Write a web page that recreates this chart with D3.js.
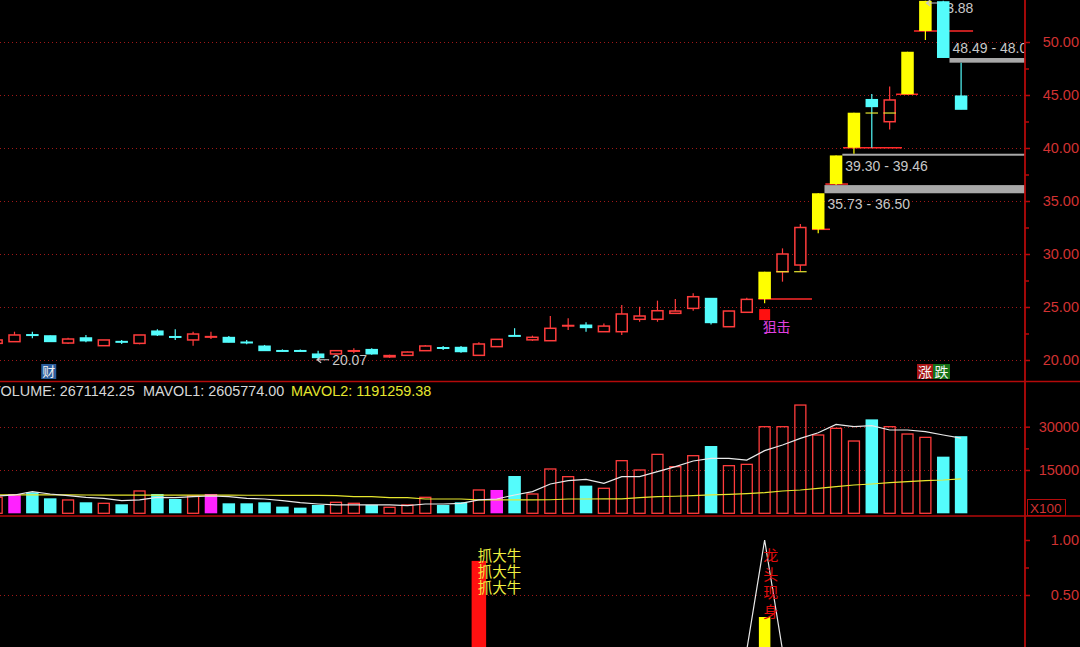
<!DOCTYPE html>
<html><head><meta charset="utf-8">
<script src="https://cdn.jsdelivr.net/npm/d3@7"></script>
<style>
body{margin:0;background:#000;overflow:hidden}
svg{display:block}
text{font-family:"Liberation Sans",Arial,sans-serif}
.cjk{font-family:"Noto Sans CJK SC","Noto Sans",sans-serif}
</style>
</head><body>
<svg id="c" width="1080" height="647"></svg>
<script>
// ---------------- data ----------------
const categories = d3.range(55).map(i => "T" + i);
const opens  = [21.57,21.73,22.40,22.29,21.60,22.10,21.35,21.76,21.57,22.74,22.22,21.89,22.17,22.14,21.70,21.32,20.90,20.90,20.57,20.57,20.86,21.00,20.27,20.44,20.88,21.18,21.20,20.44,21.26,22.32,21.90,21.82,23.20,23.30,22.67,22.67,23.84,23.84,24.40,24.87,25.82,23.14,24.50,25.75,28.33,28.96,32.33,36.60,40.03,44.58,42.48,45.07,51.04,53.80,44.91];
const highs  = [21.95,22.67,22.67,22.30,22.10,22.36,21.89,21.89,22.36,22.90,22.90,22.67,22.67,22.26,21.89,21.42,21.00,21.00,20.88,20.92,21.10,21.10,20.50,20.80,21.42,21.32,21.32,21.67,21.98,23.00,22.30,24.15,23.93,23.55,23.45,25.19,25.03,25.60,25.75,26.29,25.82,24.65,25.88,28.33,30.53,32.83,35.73,39.30,43.33,45.10,45.80,49.08,53.88,53.88,48.05];
const lows   = [21.50,21.73,22.05,21.73,21.50,21.67,21.35,21.51,21.48,22.26,21.89,21.35,21.98,21.67,21.48,20.85,20.78,20.78,20.07,20.55,20.63,20.50,20.20,20.44,20.88,20.94,20.69,20.44,21.26,22.28,21.80,21.82,22.83,22.67,22.67,22.36,23.61,23.61,24.40,24.65,23.36,23.14,24.50,25.35,27.39,28.33,31.95,36.50,39.46,40.03,41.75,45.07,50.19,48.49,43.65];
const closes = [21.89,22.36,22.33,21.73,21.98,21.80,21.89,21.70,22.36,22.36,22.16,22.45,22.23,21.67,21.65,20.88,20.86,20.86,20.22,20.88,20.90,20.57,20.44,20.75,21.32,21.14,20.78,21.51,21.95,22.28,22.14,22.99,23.28,23.05,23.20,24.34,24.15,24.65,24.62,25.97,23.52,24.62,25.72,28.33,30.00,32.50,35.73,39.30,43.33,43.90,44.53,49.08,53.88,48.54,43.65];
const limitUpDays = [43,46,47,48,51,52];
const volumes = [5540,6690,7270,5190,4620,3810,3460,3120,7730,6690,4960,6000,6690,3460,3460,3810,2310,1960,2890,3810,3460,2890,2080,2890,5540,2890,3810,8080,8080,12920,6690,15350,12690,9580,8660,18230,15000,20420,16160,19960,23310,16500,16960,30000,30000,37500,27120,29430,25040,32540,30000,27460,26310,19620,26711];
const markedVolDays = [1,12,28];
const mavol1 = [6000,6350,7500,6690,6120,5540,5190,4390,4620,5540,5420,5770,6000,5770,5190,4960,4390,3690,3230,2890,2890,2890,2890,2650,3230,3230,3460,4620,4960,6350,7500,10150,11310,11770,10390,12690,12690,14420,16160,18120,19040,19040,18460,21700,23650,25960,27920,30810,30000,30350,28850,28850,28270,27120,26058];
const mavol2 = [6400,6400,6380,6360,6350,6340,6330,6320,6310,6300,6300,6290,6280,6270,6260,6250,6240,6220,6200,6150,5780,5770,5420,5400,4960,4960,4950,4650,4620,4620,4620,4700,4960,4960,4980,5000,5420,5770,5900,6120,6350,6580,6800,7150,7730,8080,8660,9230,9810,10150,10620,10960,11310,11540,11913];
const priceTicks = [20,25,30,35,40,45,50];
const priceMinor = [22.5,27.5,32.5,37.5,42.5,47.5];
const volTicks = [15000,30000];
const volMinor = [22500];
const indTicks = [0.5,1.0];
const indMinor = [0.75];
const gaps = [
  {day:46, lo:35.73, hi:36.50, label:"35.73 - 36.50", dir:"up"},
  {day:47, lo:39.30, hi:39.46, label:"39.30 - 39.46", dir:"up"},
  {day:53, lo:48.05, hi:48.49, label:"48.49 - 48.05", dir:"down"}
];
const supportLines = [
  {from:42.65,to:45.65,price:25.75},{from:45.65,to:46.66,price:32.33},
  {from:46.40,to:47.67,price:36.60},{from:47.39,to:50.69,price:40.03},
  {from:50.36,to:51.59,price:45.07},{from:51.36,to:54.67,price:51.04}
];
const costTicks = [{day:44,price:28.33},{day:45,price:28.33},{day:49,price:43.30},{day:50,price:43.30}];
const extremes = [{day:18, price:20.07, label:"20.07", kind:"low"},{day:52, price:53.88, label:"53.88", kind:"high"}];
const bullSignal = [{day:27, value:0.81}];
const dragonBar = [{day:43, value:0.30}];
const dragonLine = [{day:42,value:0},{day:43,value:1},{day:44,value:0}];
const header = [{t:"VOLUME: 2671142.25", c:"#d8d8d8"},{t:"MAVOL1: 2605774.00", c:"#d8d8d8"},{t:"MAVOL2: 1191259.38", c:"#e6e62e"}];

// ---------------- layout ----------------
const svg = d3.select("#c");
const W = 1080, H = 647, AX = 1025;
const P = {top:0, bot:381}, V = {top:382, bot:516}, I = {top:517, bot:647};
const RED = "#ff3c3c", CYAN = "#54fcfc", YEL = "#ffff00", MAG = "#ff22ff", AXC = "#b40a0a", LBL = "#d23232", GRID = "#a01818";

svg.append("rect").attr("width",W).attr("height",H).attr("fill","#000");

const x = d3.scaleBand().domain(categories).range([-12.29, 970.03]).paddingInner(0.3).paddingOuter(0.15);
const bw = x.bandwidth();
const cx = i => x(categories[i]) + bw/2;
const xf = d3.scaleLinear().domain([0, categories.length-1]).range([cx(0), cx(categories.length-1)]);
const y = d3.scaleLinear().domain([20,50]).range([360,42]);
const vy = d3.scaleLinear().domain([0,30000]).range([513.3,426.7]);
const iy = d3.scaleLinear().domain([0,1]).range([650,540]);

const defs = svg.append("defs");
[["cm",0,P.top,AX,P.bot-P.top],["cv",0,V.top,AX,V.bot-V.top],["ci",0,I.top,AX,I.bot-I.top]].forEach(([id,a,b,w,h])=>{
  defs.append("clipPath").attr("id",id).append("rect").attr("x",a).attr("y",b).attr("width",w).attr("height",h);
});

function grid(g, scale, vals){
  g.selectAll(null).data(vals).join("line")
    .attr("x1",0).attr("x2",AX).attr("y1",d=>Math.round(scale(d))+0.5).attr("y2",d=>Math.round(scale(d))+0.5)
    .attr("stroke",GRID).attr("stroke-width",1).attr("stroke-dasharray","1,3");
}

// ---------------- main panel ----------------
const gm = svg.append("g").attr("clip-path","url(#cm)");
grid(gm, y, priceTicks);

// high label text (beneath candles)
extremes.filter(e=>e.kind==="high").forEach(e=>{
  gm.append("text").attr("x",cx(e.day)+13).attr("y",y(e.price)+12).attr("fill","#c8c8c8").attr("font-size",14).text(e.label);
});

// gap bands
gaps.forEach(g=>{
  const x0 = cx(g.day)+bw/2;
  const y0 = y(g.hi), h = Math.max(2, y(g.lo)-y(g.hi));
  gm.append("rect").attr("x",x0).attr("y",y0).attr("width",AX-x0).attr("height",h).attr("fill","#a8a8a8");
  gm.append("text").attr("x",x0+3).attr("y", g.dir==="up" ? y(g.lo)+16 : y(g.hi)-5)
    .attr("fill","#c8c8c8").attr("font-size",14).text(g.label);
});

// support lines
gm.selectAll(null).data(supportLines).join("line")
  .attr("x1",d=>xf(d.from)).attr("x2",d=>xf(d.to)).attr("y1",d=>y(d.price)).attr("y2",d=>y(d.price))
  .attr("stroke","#ff2a2a").attr("stroke-width",1.5);

// candles
categories.forEach((c,i)=>{
  const o=opens[i],h=highs[i],l=lows[i],cl=closes[i];
  const xc = cx(i), x0 = x(c);
  const isY = limitUpDays.includes(i);
  const up = cl >= o;
  if(isY){
    gm.append("line").attr("x1",xc).attr("x2",xc).attr("y1",y(h)).attr("y2",y(l)).attr("stroke",YEL).attr("stroke-width",1.2);
    gm.append("rect").attr("x",x0).attr("y",y(Math.max(o,cl))).attr("width",bw).attr("height",Math.max(1.5,Math.abs(y(o)-y(cl)))).attr("fill",YEL);
  } else if(up){
    const top=y(cl), bot=y(o);
    if(bot-top < 2){
      gm.append("line").attr("x1",xc).attr("x2",xc).attr("y1",y(h)).attr("y2",y(l)).attr("stroke",RED).attr("stroke-width",1.2);
      gm.append("rect").attr("x",x0).attr("y",top-0.5).attr("width",bw).attr("height",Math.max(2,bot-top+1)).attr("fill",RED);
    } else {
      gm.append("line").attr("x1",xc).attr("x2",xc).attr("y1",y(h)).attr("y2",top).attr("stroke",RED).attr("stroke-width",1.2);
      gm.append("line").attr("x1",xc).attr("x2",xc).attr("y1",bot).attr("y2",y(l)).attr("stroke",RED).attr("stroke-width",1.2);
      gm.append("rect").attr("x",x0+0.75).attr("y",top).attr("width",bw-1.5).attr("height",bot-top)
        .attr("fill","#000").attr("stroke",RED).attr("stroke-width",1.5);
    }
  } else {
    gm.append("line").attr("x1",xc).attr("x2",xc).attr("y1",y(h)).attr("y2",y(l)).attr("stroke",CYAN).attr("stroke-width",1.2);
    gm.append("rect").attr("x",x0).attr("y",y(o)-0.5).attr("width",bw).attr("height",Math.max(2,y(cl)-y(o)+1)).attr("fill",CYAN);
  }
});

// cost ticks
gm.selectAll(null).data(costTicks).join("line")
  .attr("x1",d=>x(categories[d.day])).attr("x2",d=>x(categories[d.day])+bw)
  .attr("y1",d=>y(d.price)).attr("y2",d=>y(d.price)).attr("stroke","#e6e632").attr("stroke-width",1.2);

// extreme arrows / low label
extremes.forEach(e=>{
  const ax = e.kind==="low" ? cx(e.day)-1 : cx(e.day)+1;
  const ay = e.kind==="low" ? y(e.price)+0.5 : 3;
  gm.append("path").attr("d",`M${ax+12},${ay} L${ax},${ay} M${ax+4},${ay-3} L${ax},${ay} L${ax+4},${ay+3}`)
    .attr("stroke","#c8c8c8").attr("stroke-width",1.2).attr("fill","none");
  if(e.kind==="low") gm.append("text").attr("x",ax+15).attr("y",ay+5).attr("fill","#c8c8c8").attr("font-size",14).text(e.label);
});

// signal marker 狙击
const sx = cx(43);
gm.append("rect").attr("x",sx-5.5).attr("y",y(24.8)).attr("width",11).attr("height",y(23.77)-y(24.8)).attr("fill","#ff1010");
gm.append("text").attr("class","cjk").attr("x",sx-2).attr("y",y(23.77)+12).attr("fill","#e040e0").attr("font-size",14).text("狙击");

// 财 badge
const bx = cx(3);
gm.append("rect").attr("x",bx-9).attr("y",364).attr("width",15).attr("height",15).attr("fill","#2a5d9c");
gm.append("text").attr("class","cjk").attr("x",bx-1.5).attr("y",376).attr("text-anchor","middle").attr("fill","#f0f0f0").attr("font-size",13).text("财");

// 涨跌 badge
gm.append("rect").attr("x",917).attr("y",364).attr("width",16).attr("height",15).attr("fill","#a81414");
gm.append("rect").attr("x",933).attr("y",364).attr("width",17).attr("height",15).attr("fill","#167016");
gm.append("text").attr("class","cjk").attr("x",925).attr("y",376.5).attr("text-anchor","middle").attr("fill","#f4f4f4").attr("font-size",14).text("涨");
gm.append("text").attr("class","cjk").attr("x",941.5).attr("y",376.5).attr("text-anchor","middle").attr("fill","#f4f4f4").attr("font-size",14).text("跌");

// ---------------- volume panel ----------------
const gv = svg.append("g").attr("clip-path","url(#cv)");
grid(gv, vy, volTicks);
categories.forEach((c,i)=>{
  const v = volumes[i];
  const top = vy(v), bot = vy(0);
  if(markedVolDays.includes(i)){
    gv.append("rect").attr("x",x(c)).attr("y",top).attr("width",bw).attr("height",bot-top).attr("fill",MAG);
  } else if(closes[i] >= opens[i]){
    gv.append("rect").attr("x",x(c)+0.75).attr("y",top).attr("width",bw-1.5).attr("height",bot-top)
      .attr("fill","none").attr("stroke",RED).attr("stroke-width",1.3);
  } else {
    gv.append("rect").attr("x",x(c)).attr("y",top).attr("width",bw).attr("height",bot-top).attr("fill",CYAN);
  }
});
const vline = d3.line().x((d,i)=>cx(i)).y(d=>vy(d));
gv.append("path").attr("d",vline(mavol2)).attr("fill","none").attr("stroke","#e6e62e").attr("stroke-width",1.2);
gv.append("path").attr("d",vline(mavol1)).attr("fill","none").attr("stroke","#e8e8e8").attr("stroke-width",1.2);

// header
const hx = [-9, 143, 291];
header.forEach((h,k)=>{
  svg.append("text").attr("x",hx[k]).attr("y",396).attr("fill",h.c).attr("font-size",14.4).text(h.t);
});

// ---------------- indicator panel ----------------
const gi = svg.append("g").attr("clip-path","url(#ci)");
grid(gi, iy, [0.5]);
gi.selectAll(null).data(bullSignal).join("rect")
  .attr("x",d=>x(categories[d.day])-1).attr("width",bw+2).attr("y",d=>iy(d.value)).attr("height",d=>iy(0)-iy(d.value)).attr("fill","#ff1010");
gi.selectAll(null).data(dragonBar).join("rect")
  .attr("x",d=>x(categories[d.day])+0.5).attr("width",bw-1).attr("y",d=>iy(d.value)).attr("height",d=>iy(0)-iy(d.value)).attr("fill",YEL);
gi.append("path").attr("d",d3.line().x(d=>cx(d.day)).y(d=>iy(d.value))(dragonLine)).attr("fill","none").attr("stroke","#e8e8e8").attr("stroke-width",1.2);
const bullX = cx(27)-1;
["抓大牛","抓大牛","抓大牛"].forEach((t,k)=>{
  gi.append("text").attr("class","cjk").attr("x",bullX).attr("y",561+k*16).attr("fill","#f0f040").attr("font-size",14.5).text(t);
});
const dX = cx(43)+6;
["龙","头","现","身"].forEach((t,k)=>{
  gi.append("text").attr("class","cjk").attr("x",dX).attr("y",561+k*18.5).attr("text-anchor","middle").attr("fill","#e00c0c").attr("font-size",15).text(t);
});

// ---------------- axes & frame ----------------
function rightAxis(scale, major, minor, fmt, fs){
  const g = svg.append("g").attr("transform",`translate(${AX},0)`);
  g.call(d3.axisRight(scale).tickValues(major).tickFormat(fmt).tickSize(5).tickPadding(8));
  g.select(".domain").remove();
  g.selectAll(".tick line").attr("stroke",AXC).attr("stroke-width",1.5);
  g.selectAll(".tick text").attr("fill",LBL).attr("font-size",fs).attr("font-family","Liberation Sans, Arial, sans-serif")
    .attr("text-anchor","end").attr("x",54);
  const m = svg.append("g").attr("transform",`translate(${AX},0)`);
  m.call(d3.axisRight(scale).tickValues(minor).tickFormat("").tickSize(4));
  m.select(".domain").remove();
  m.selectAll(".tick line").attr("stroke",AXC).attr("stroke-width",1.5);
}
rightAxis(y, priceTicks, priceMinor, d3.format(".2f"), 14.5);
rightAxis(vy, volTicks, volMinor, d3.format("d"), 14.5);
rightAxis(iy, indTicks, indMinor, d3.format(".2f"), 14.5);

svg.append("line").attr("x1",0).attr("x2",W).attr("y1",381.5).attr("y2",381.5).attr("stroke",AXC).attr("stroke-width",1.5);
svg.append("line").attr("x1",0).attr("x2",W).attr("y1",516).attr("y2",516).attr("stroke",AXC).attr("stroke-width",1.5);
svg.append("line").attr("x1",AX).attr("x2",AX).attr("y1",0).attr("y2",H).attr("stroke",AXC).attr("stroke-width",1.8);

svg.append("rect").attr("x",1027.5).attr("y",499.5).attr("width",38).attr("height",16).attr("fill","none").attr("stroke",AXC).attr("stroke-width",1);
svg.append("text").attr("x",1030).attr("y",512.5).attr("fill",LBL).attr("font-size",13.5).text("X100");
</script>
</body></html>
